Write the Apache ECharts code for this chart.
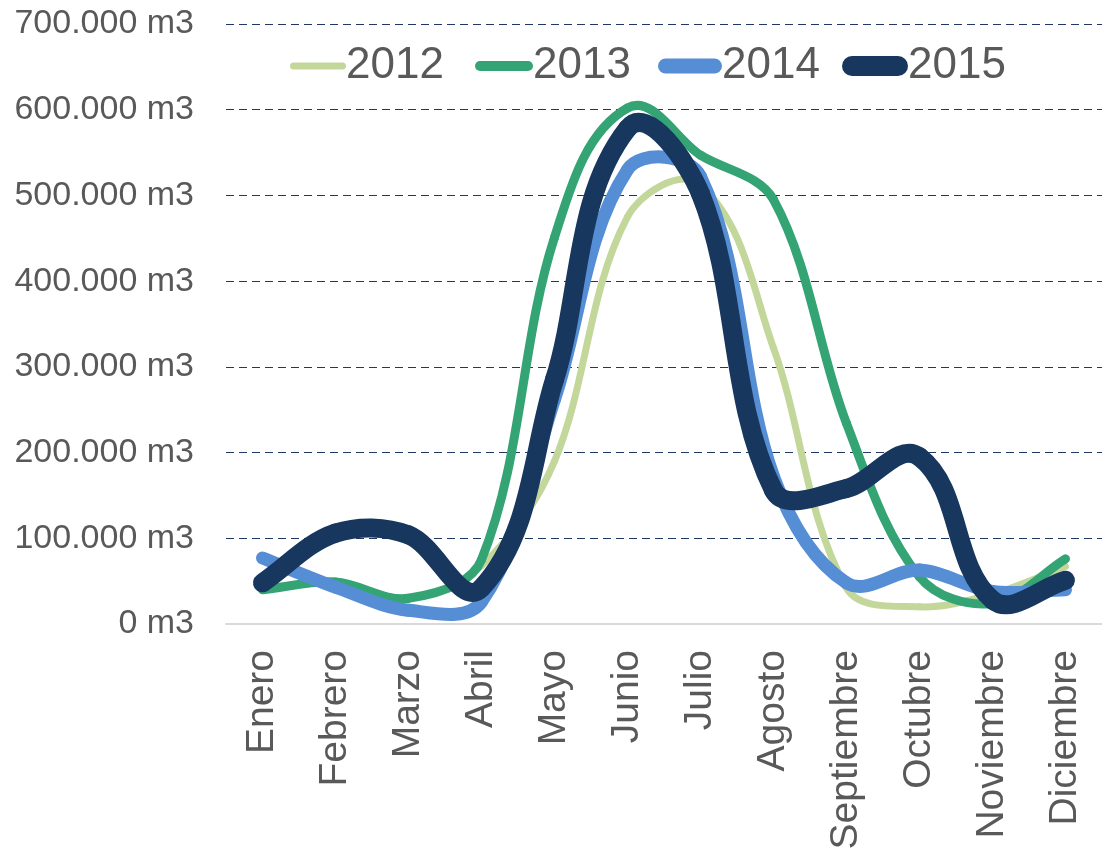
<!DOCTYPE html>
<html lang="es">
<head>
    <meta charset="UTF-8">
    <title>Volumen mensual m3</title>
    <script src="https://cdn.jsdelivr.net/npm/echarts@6/dist/echarts.min.js"></script>
    <style>
        html, body { margin: 0; padding: 0; background: #fff; }
        #chart { width: 1102px; height: 853px; }
    </style>
</head>
<body>
    <div id="chart"></div>
    <script>
        // datos (miles de m3)
        const meses = ['Enero', 'Febrero', 'Marzo', 'Abril', 'Mayo', 'Junio', 'Julio', 'Agosto', 'Septiembre', 'Octubre', 'Noviembre', 'Diciembre'];
        const y2012 = [42, 48, 30, 68, 190, 475, 512, 322, 42, 20, 35, 67];
        const y2013 = [40, 49, 30, 75, 451, 602, 547, 495, 234, 55, 24, 76];
        const y2014 = [77, 43, 16, 26, 262, 530, 522, 172, 48, 63, 38, 40];
        const y2015 = [48, 106, 104, 42, 285, 578, 502, 156, 158, 195, 28, 51];

        const chart = echarts.init(document.getElementById('chart'));
        const font = 'Liberation Sans, Arial, sans-serif';

        // suavizado tipo Excel: tangente (sig - ant), asas proporcionales al tramo
        function serie(name, data, color, width) {
            const k = 1 / 3;
            return {
                name: name,
                type: 'custom',
                coordinateSystem: 'cartesian2d',
                data: data.map((v, i) => [i, v]),
                encode: { x: 0, y: 1 },
                itemStyle: { color: color },
                renderItem: function (params, api) {
                    const i = params.dataIndex;
                    const n = data.length;
                    if (i >= n - 1) return null;
                    const pts = data.map((v, j) => api.coord([j, v]));
                    const tan = j => {
                        const a = pts[Math.max(j - 1, 0)], b = pts[Math.min(j + 1, n - 1)];
                        const dx = b[0] - a[0], dy = b[1] - a[1];
                        const l = Math.hypot(dx, dy) || 1;
                        return [dx / l, dy / l];
                    };
                    const p1 = pts[i], p2 = pts[i + 1];
                    const L = Math.hypot(p2[0] - p1[0], p2[1] - p1[1]) * k;
                    const t1 = tan(i), t2 = tan(i + 1);
                    return {
                        type: 'bezierCurve',
                        shape: {
                            x1: p1[0], y1: p1[1],
                            cpx1: p1[0] + t1[0] * L, cpy1: p1[1] + t1[1] * L,
                            cpx2: p2[0] - t2[0] * L, cpy2: p2[1] - t2[1] * L,
                            x2: p2[0], y2: p2[1]
                        },
                        style: { fill: null, stroke: color, lineWidth: width, lineCap: 'round', lineJoin: 'round' }
                    };
                }
            };
        }

        function stadium(w, h) {
            const r = h / 2;
            return 'path://M' + r + ',0 L' + (w - r) + ',0 A' + r + ',' + r + ' 0 0 1 ' + (w - r) + ',' + h +
                ' L' + r + ',' + h + ' A' + r + ',' + r + ' 0 0 1 ' + r + ',0 Z';
        }

        function leyenda(name, left, w, h) {
            return {
                top: 39,
                left: left,
                itemWidth: w,
                itemHeight: h,
                icon: stadium(w, h),
                textStyle: { fontFamily: font, fontSize: 44, color: '#595959', padding: [0, 0, 0, -5] },
                data: [name]
            };
        }

        chart.setOption({
            animation: false,
            legend: [
                leyenda('2012', 285, 56, 7),
                leyenda('2013', 470, 58, 10),
                leyenda('2014', 653, 64, 15),
                leyenda('2015', 837, 66, 20)
            ],
            grid: { left: 226, right: 0, top: 24, bottom: 229 },
            xAxis: {
                type: 'category',
                data: meses,
                axisLine: { lineStyle: { color: '#d9d9d9', width: 2 } },
                axisTick: { show: false },
                axisLabel: { rotate: 90, margin: 26, fontFamily: font, fontSize: 39, color: '#595959' }
            },
            yAxis: {
                type: 'value',
                min: 0,
                max: 700,
                interval: 100,
                axisLine: { show: false },
                axisTick: { show: false },
                axisLabel: {
                    margin: 32,
                    fontFamily: font,
                    fontSize: 34,
                    color: '#595959',
                    formatter: v => v === 0 ? '0 m3' : v + '.000 m3'
                },
                splitLine: { lineStyle: { color: '#1f3864', width: 1, type: [8, 5] } }
            },
            series: [
                serie('2012', y2012, '#c4d79b', 7),
                serie('2013', y2013, '#35a474', 9),
                serie('2014', y2014, '#558ed5', 13),
                serie('2015', y2015, '#17375e', 19)
            ]
        });
    </script>
</body>
</html>
